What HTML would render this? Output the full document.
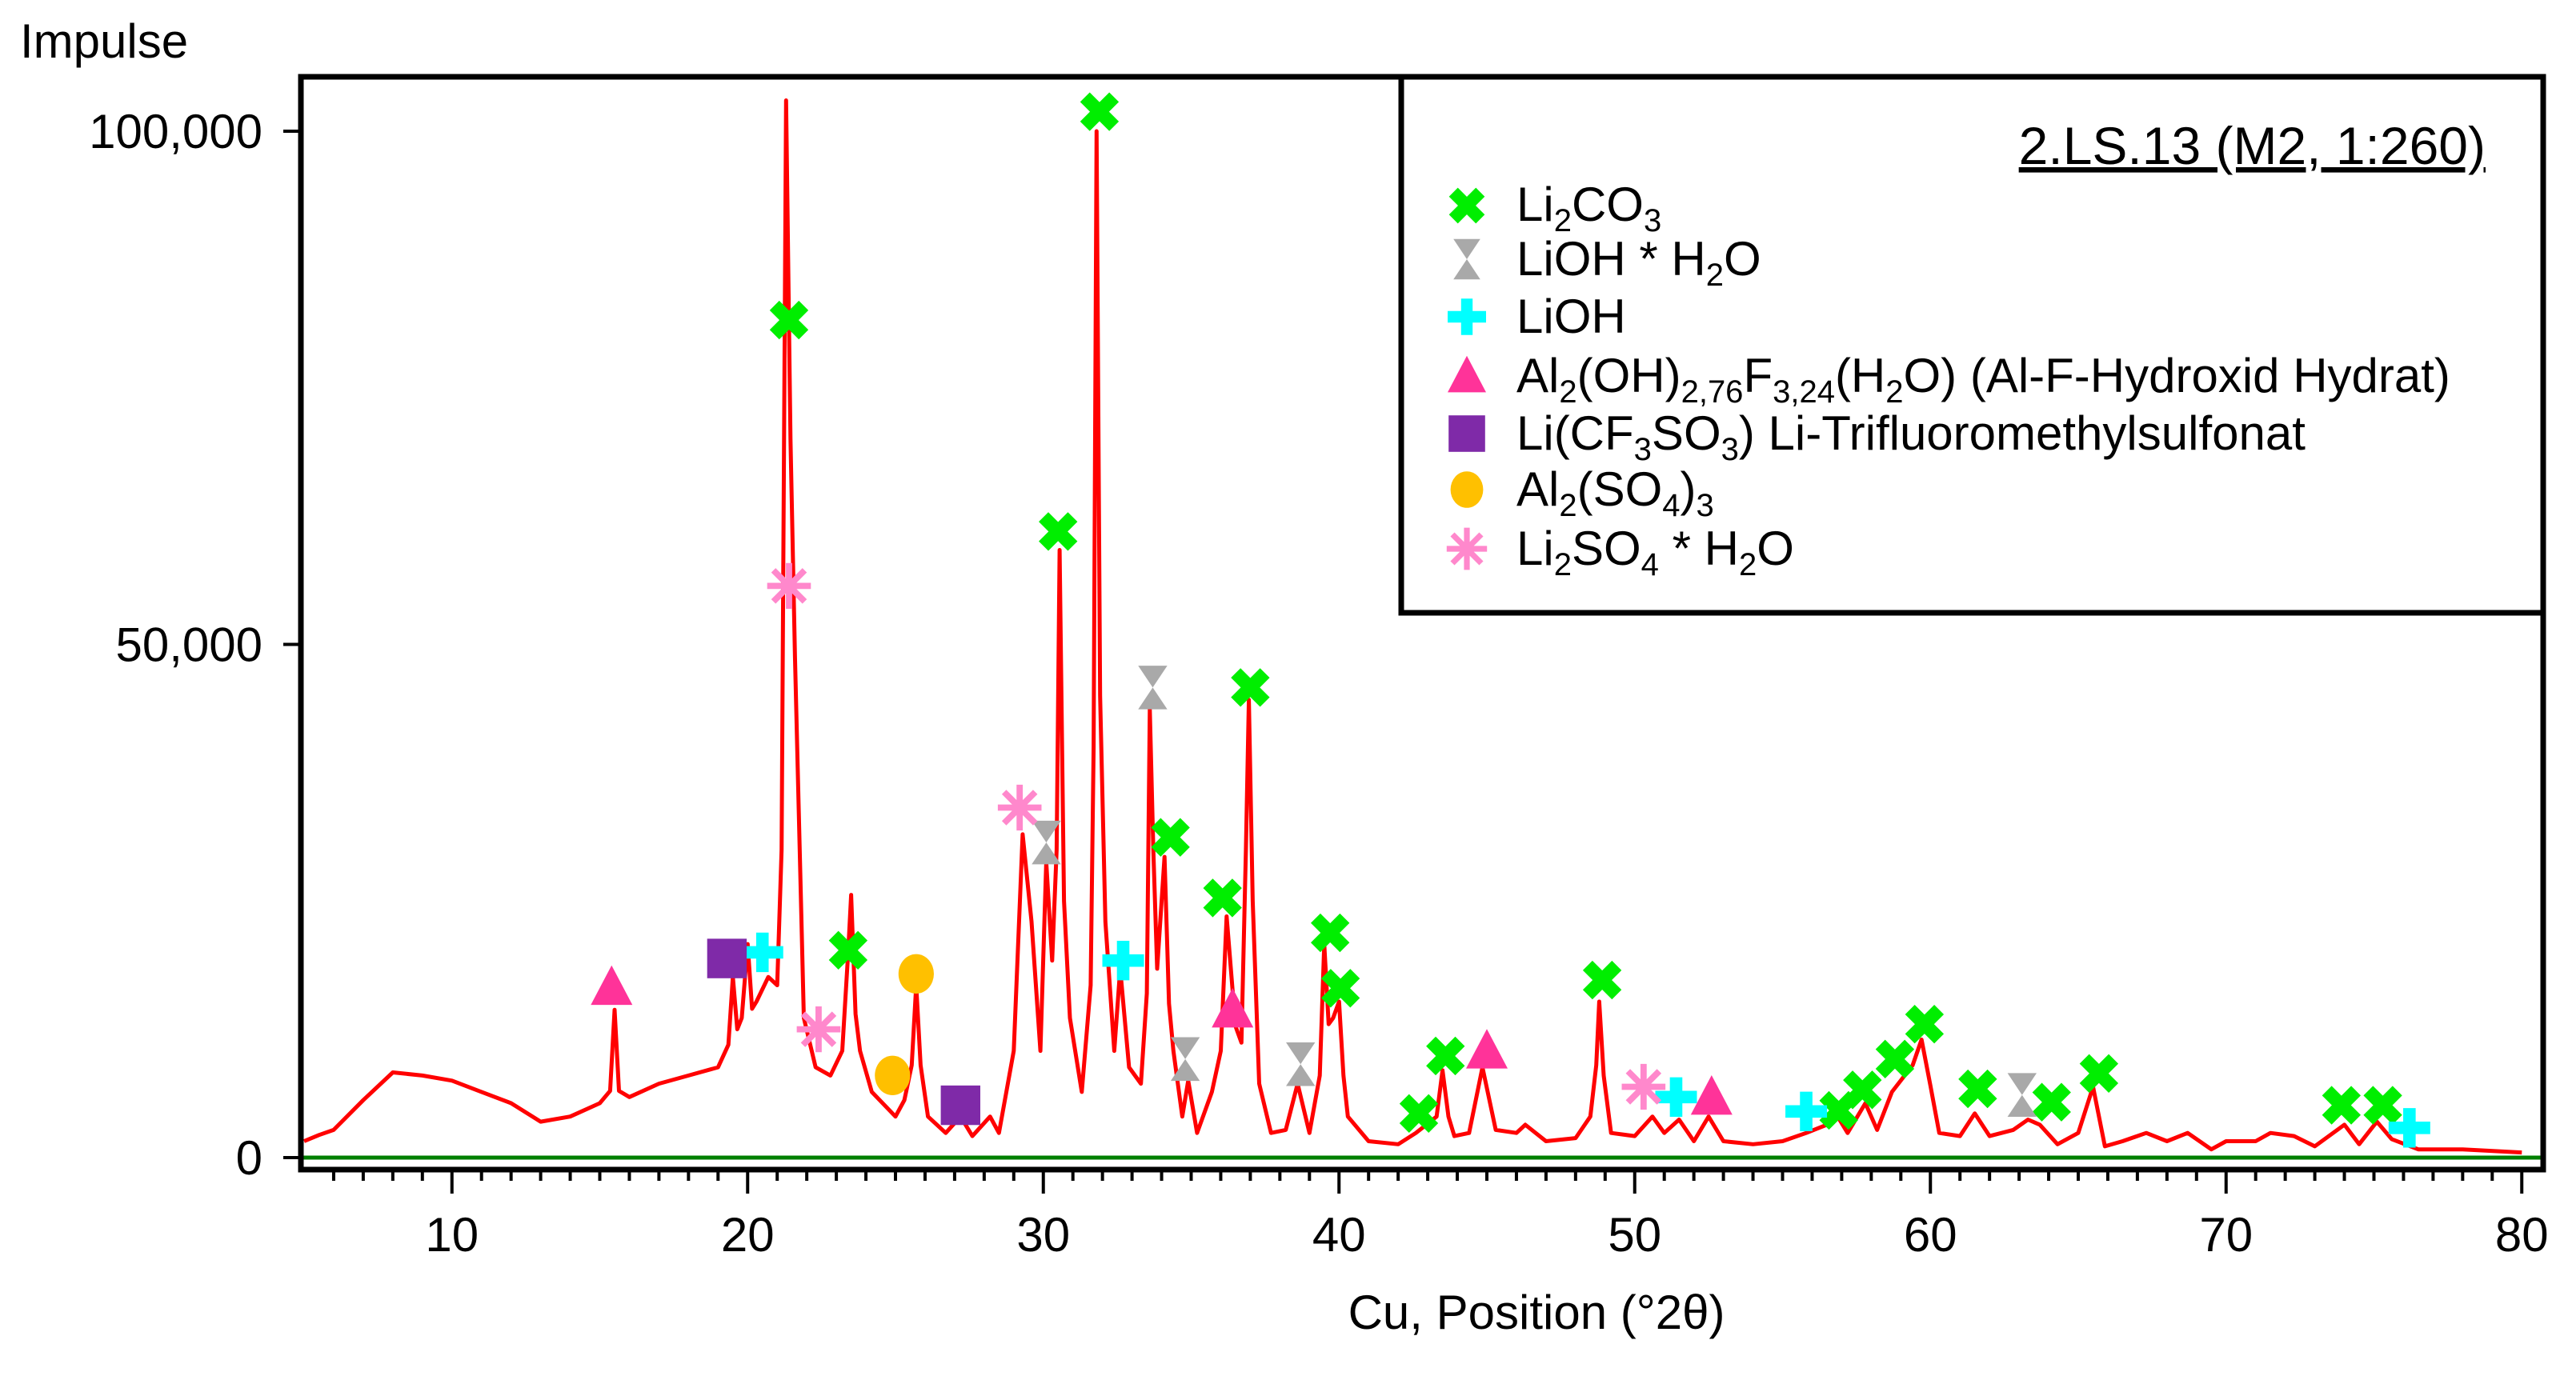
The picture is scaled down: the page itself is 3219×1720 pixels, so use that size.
<!DOCTYPE html>
<html><head><meta charset="utf-8"><style>
html,body{margin:0;padding:0;background:#fff;}
svg{display:block;font-family:"Liberation Sans",sans-serif;}
</style></head><body>
<svg id="chart" width="3219" height="1720" viewBox="0 0 3219 1720" xmlns="http://www.w3.org/2000/svg">
<g id="plot"></g>
<g id="axes"></g>
<g id="marks"></g>
<g id="legend">
<rect x="1751" y="96" width="1427" height="670" fill="#fff" stroke="#000" stroke-width="7"/>
<text x="3106" y="205" font-size="66" text-anchor="end" text-decoration="underline">2.LS.13 (M2, 1:260)</text>
<text x="1895" y="276" font-size="60">Li<tspan font-size="40" dy="13">2</tspan><tspan dy="-13">CO</tspan><tspan font-size="40" dy="13">3</tspan></text>
<text x="1895" y="344" font-size="60">LiOH * H<tspan font-size="40" dy="13">2</tspan><tspan dy="-13">O</tspan></text>
<text x="1895" y="416" font-size="60">LiOH</text>
<text x="1895" y="490" font-size="60">Al<tspan font-size="40" dy="13">2</tspan><tspan dy="-13">(OH)</tspan><tspan font-size="40" dy="13">2,76</tspan><tspan dy="-13">F</tspan><tspan font-size="40" dy="13">3,24</tspan><tspan dy="-13">(H</tspan><tspan font-size="40" dy="13">2</tspan><tspan dy="-13">O) (Al-F-Hydroxid Hydrat)</tspan></text>
<text x="1895" y="562" font-size="60">Li(CF<tspan font-size="40" dy="13">3</tspan><tspan dy="-13">SO</tspan><tspan font-size="40" dy="13">3</tspan><tspan dy="-13">) Li-Trifluoromethylsulfonat</tspan></text>
<text x="1895" y="632" font-size="60">Al<tspan font-size="40" dy="13">2</tspan><tspan dy="-13">(SO</tspan><tspan font-size="40" dy="13">4</tspan><tspan dy="-13">)</tspan><tspan font-size="40" dy="13">3</tspan></text>
<text x="1895" y="706" font-size="60">Li<tspan font-size="40" dy="13">2</tspan><tspan dy="-13">SO</tspan><tspan font-size="40" dy="13">4</tspan><tspan dy="-13"> * H</tspan><tspan font-size="40" dy="13">2</tspan><tspan dy="-13">O</tspan></text>
</g>
<text x="25" y="72" font-size="60">Impulse</text>
<text x="1920" y="1661" font-size="60" text-anchor="middle">Cu, Position (°2θ)</text>
</svg>
<script>
const posX = [5,5.5,6,7,8,9,10,11,12,13,14,15,15.35,15.5,15.65,16,17,18,19,19.35,19.5,19.65,19.8,20,20.15,20.3,20.7,21,21.15,21.3,21.45,21.6,21.9,22.3,22.8,23.2,23.4,23.5,23.65,23.8,24.2,25,25.3,25.55,25.7,25.85,26.1,26.7,27.2,27.6,28.2,28.5,29,29.3,29.6,29.9,30.1,30.3,30.45,30.55,30.7,30.9,31.3,31.6,31.7,31.8,31.92,32.1,32.4,32.6,32.9,33.3,33.5,33.6,33.72,33.85,34.1,34.25,34.4,34.7,34.9,35.2,35.7,36.0,36.2,36.5,36.7,36.85,36.95,37.08,37.3,37.7,38.2,38.6,39,39.35,39.5,39.65,39.8,40,40.15,40.3,41,42,42.6,43.3,43.5,43.7,43.9,44.4,44.85,45.3,46,46.3,47,48,48.5,48.7,48.8,48.95,49.2,50,50.6,51,51.5,52,52.5,53,54,55,55.8,56.5,56.8,57.2,57.8,58.2,58.7,59.4,59.7,60,60.3,61,61.5,62,62.8,63.3,63.7,64.3,65,65.5,65.9,66.5,67.3,68,68.7,69.5,70,71,71.5,72.3,73,74,74.5,75.1,75.6,76.5,78,80];
const counts = [1600,2200,2700,5600,8300,8000,7500,6400,5300,3500,4000,5300,6500,14400,6500,5900,7200,8000,8800,11000,17600,12500,13600,20800,14500,15200,17600,16800,30000,103000,70000,48800,13600,8800,8000,10400,20000,25600,14000,10400,6400,4000,5600,9000,16800,9000,4000,2400,4000,2100,4000,2400,10400,31500,23000,10400,28800,19200,30000,59200,25000,13600,6400,16800,40000,100000,45000,23000,10400,18400,8800,7200,16000,43700,30000,18400,29300,15000,10400,4000,7500,2400,6400,10400,23500,12800,11200,30000,44600,25000,7200,2400,2700,7200,2400,8000,20800,13000,13600,15200,8000,4000,1600,1300,2400,4000,8500,4000,2100,2400,8800,2700,2400,3200,1600,1900,4000,9000,15200,8000,2400,2100,4000,2400,3700,1600,4000,1600,1300,1600,2400,3200,4300,2400,5300,2700,6400,9000,11500,7000,2400,2100,4300,2100,2700,3700,3200,1300,2400,6900,1100,1600,2400,1600,2400,800,1600,1600,2400,2100,1100,3200,1300,3500,1800,800,800,500];
const xTicksMajor = [10,20,30,40,50,60,70,80];
const yTicks = [0,50000,100000];
const yTickLabels = ["0","50,000","100,000"];
const li2co3X = [21.4,31.9,30.5,34.3,36.06,37.0,39.7,40.05,42.7,43.6,48.9,56.9,57.7,58.8,59.8,61.6,64.1,65.7,73.9,75.3,23.4];
const li2co3Y = [81600,101900,61000,31200,25300,45800,21900,16500,4300,9900,17300,4600,6600,9600,13000,6700,5400,8200,5100,5100,20200];
const liohH2oX = [30.1,33.7,34.8,38.7,63.1];
const liohH2oY = [30700,45800,9600,9100,6100];
const liohX = [20.5,32.7,51.4,55.8,76.2];
const liohY = [20000,19200,5900,4500,2900];
const alfX = [15.4,36.4,45.0,52.6];
const alfY = [16600,14400,10400,5900];
const triflatX = [19.3,27.2];
const triflatY = [19400,5100];
const al2so43X = [25.7,24.9];
const al2so43Y = [17900,8000];
const li2so4X = [21.4,22.4,29.2,50.3];
const li2so4Y = [55700,12500,34100,6900];

const NS="http://www.w3.org/2000/svg";
const L=376,R=3178,T=96,B=1462;
function sx(v){return 380+(v-5)*36.95;}
function sy(v){return 1447-v*0.01283;}
function mk(tag,attrs,parent){const e=document.createElementNS(NS,tag);for(const k in attrs)e.setAttribute(k,attrs[k]);parent.appendChild(e);return e;}

const plot=document.getElementById('plot');
const axes=document.getElementById('axes');
const marks=document.getElementById('marks');

const zl=mk('line',{x1:L,x2:R,y1:sy(0),y2:sy(0),stroke:'#008000','stroke-width':5},plot);



let d='';
for(let i=0;i<posX.length;i++){d+=(i?'L':'M')+sx(posX[i]).toFixed(1)+' '+sy(counts[i]).toFixed(1);}
const ln=mk('path',{d:d,fill:'none',stroke:'#ff0000','stroke-width':5,'stroke-linejoin':'round'},plot);



const fr=mk('rect',{x:L,y:T,width:R-L,height:B-T,fill:'none',stroke:'#000','stroke-width':7},axes);



for(let v=6;v<=80;v++){
  const major=xTicksMajor.indexOf(v)>=0;
  const t=mk('line',{x1:sx(v),x2:sx(v),y1:B,y2:major?1492:1476,stroke:'#000','stroke-width':4},axes);
  
  
}
xTicksMajor.forEach(v=>{
  const t=mk('text',{x:sx(v),y:1564,'font-size':60,'text-anchor':'middle'},axes);
  t.textContent=String(v);
  
  
});
yTicks.forEach((v,i)=>{
  const t=mk('line',{x1:L-22,x2:L,y1:sy(v),y2:sy(v),stroke:'#000','stroke-width':4},axes);
  
  
  const lb=mk('text',{x:L-48,y:sy(v)+21,'font-size':60,'text-anchor':'end'},axes);
  lb.textContent=yTickLabels[i];
  
  
});

function drawMarker(type,cx,cy,parent,s){
  const g=mk('g',{transform:'translate('+cx+','+cy+') scale('+s+')'},parent);
  if(type==='x'){
    mk('path',{d:'M-14,-14L14,14M14,-14L-14,14',stroke:'#00ee00','stroke-width':13},g);
  }else if(type==='hg'){
    mk('path',{d:'M-14,-21L14,-21L0,0L14,21L-14,21L0,0Z',fill:'#a9a9a9'},g);
  }else if(type==='plus'){
    mk('path',{d:'M-20,0L20,0M0,-19L0,19',stroke:'#00ffff','stroke-width':12},g);
  }else if(type==='tri'){
    mk('path',{d:'M0,-21L20,17L-20,17Z',fill:'#ff3399'},g);
  }else if(type==='sq'){
    mk('rect',{x:-19,y:-19,width:38,height:38,fill:'#7f2aa8'},g);
  }else if(type==='circ'){
    mk('ellipse',{rx:17,ry:19,fill:'#ffc000'},g);
  }else if(type==='ast'){
    mk('path',{d:'M-21,0L21,0M0,-22L0,22M-15,-15L15,15M15,-15L-15,15',stroke:'#ff88cc','stroke-width':6},g);
  }
  return g;
}
const series=[
  ['x',li2co3X,li2co3Y,'li2co3-marker'],
  ['hg',liohH2oX,liohH2oY,'lioh-h2o-marker'],
  ['plus',liohX,liohY,'lioh-marker'],
  ['tri',alfX,alfY,'al-f-hydroxid-marker'],
  ['sq',triflatX,triflatY,'li-triflat-marker'],
  ['circ',al2so43X,al2so43Y,'al2so43-marker'],
  ['ast',li2so4X,li2so4Y,'li2so4-h2o-marker']
];
const legY=[257,324,396,470,542,612,686];
series.forEach((s,si)=>{
  s[1].forEach((xv,i)=>{
    const g=drawMarker(s[0],sx(xv),sy(s[2][i]),marks,1.3);
    
    
  });
  const lg=drawMarker(s[0],1833,legY[si],document.getElementById('legend'),1.2);
  
  
});
</script>
</body></html>
